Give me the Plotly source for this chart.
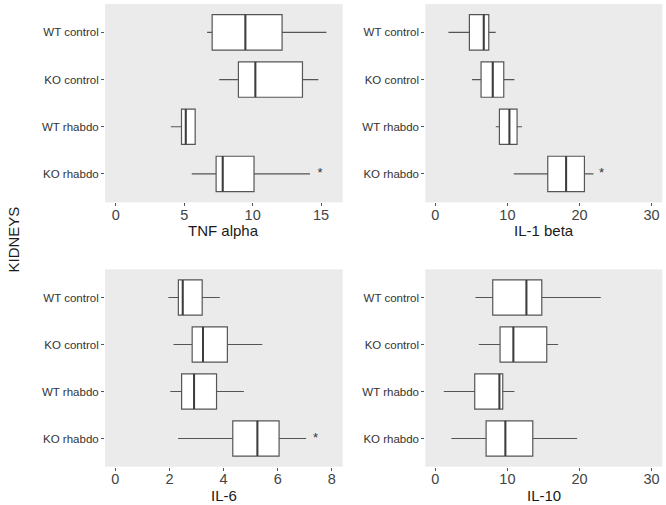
import plotly.graph_objects as go

GROUPS = ['WT control', 'KO control', 'WT rhabdo', 'KO rhabdo']

# TNF alpha
tnf_low = [6.67, 7.55, 4.02, 5.55]
tnf_q1 = [7.04, 8.96, 4.80, 7.33]
tnf_med = [9.47, 10.20, 5.11, 7.81]
tnf_q3 = [12.15, 13.64, 5.80, 10.10]
tnf_high = [15.39, 14.80, 5.85, 14.19]
tnf_star = 14.93

# IL-1 beta
il1_low = [1.81, 5.09, 8.38, 10.88]
il1_q1 = [4.72, 6.34, 8.89, 15.60]
il1_med = [6.71, 7.96, 10.28, 18.15]
il1_q3 = [7.41, 9.49, 11.34, 20.69]
il1_high = [8.38, 10.97, 12.04, 21.94]
il1_star = 23.06

# IL-6
il6_low = [1.96, 2.15, 2.03, 2.32]
il6_q1 = [2.33, 2.84, 2.45, 4.34]
il6_med = [2.49, 3.24, 2.91, 5.25]
il6_q3 = [3.21, 4.14, 3.74, 6.05]
il6_high = [3.86, 5.43, 4.75, 7.05]
il6_star = 7.40

# IL-10
il10_low = [5.56, 6.02, 1.16, 2.22]
il10_q1 = [7.96, 8.98, 5.46, 7.04]
il10_med = [12.64, 10.83, 8.89, 9.72]
il10_q3 = [14.77, 15.46, 9.35, 13.52]
il10_high = [22.96, 17.04, 10.97, 19.68]

W, H = 666, 505
BOX_W = 0.75
LINE = '#555555'
FONT = 'Liberation Sans, Arial, sans-serif'


def px_x(x):
    return x / W


def px_y(y):
    return 1 - y / H


def xdom(left, right):
    return [px_x(left), px_x(right)]


def ydom(top, bottom):
    return [px_y(bottom), px_y(top)]


panels = [
    # name, low, q1, med, q3, high, star, xrange, ticks, xdomain, ydomain, title y
    ('TNF alpha', tnf_low, tnf_q1, tnf_med, tnf_q3, tnf_high, tnf_star,
     [-0.79, 16.58], [0, 5, 10, 15], xdom(105, 342.7), ydom(4, 202.3), 231),
    ('IL-1 beta', il1_low, il1_q1, il1_med, il1_q3, il1_high, il1_star,
     [-1.4, 31.5], [0, 10, 20, 30], xdom(425.3, 662.3), ydom(4, 202.3), 231),
    ('IL-6', il6_low, il6_q1, il6_med, il6_q3, il6_high, il6_star,
     [-0.38, 8.40], [0, 2, 4, 6, 8], xdom(105, 342.7), ydom(269.3, 466.7), 495),
    ('IL-10', il10_low, il10_q1, il10_med, il10_q3, il10_high, None,
     [-1.4, 31.5], [0, 10, 20, 30], xdom(425.3, 662.3), ydom(269.3, 466.7), 495),
]

fig = go.Figure()
pos = list(range(len(GROUPS)))
annotations = []

for i, (name, low, q1, med, q3, high, star, xr, ticks, xd, yd, ty) in enumerate(panels):
    n = '' if i == 0 else str(i + 1)
    xa, ya = 'x' + n, 'y' + n

    fig.add_trace(go.Box(
        y=pos, q1=q1, median=med, q3=q3, lowerfence=low, upperfence=high,
        orientation='h', width=BOX_W, whiskerwidth=0, boxpoints=False,
        fillcolor='white', line=dict(color=LINE, width=1.2),
        xaxis=xa, yaxis=ya, showlegend=False, hoverinfo='skip',
    ))

    # thicker median bar like ggplot
    mx, my = [], []
    for p, m in zip(pos, med):
        mx += [m, m, None]
        my += [p - BOX_W / 2, p + BOX_W / 2, None]
    fig.add_trace(go.Scatter(
        x=mx, y=my, mode='lines', line=dict(color='#3d3d3d', width=2),
        xaxis=xa, yaxis=ya, showlegend=False, hoverinfo='skip',
    ))

    if star is not None:
        fig.add_trace(go.Scatter(
            x=[star], y=[pos[-1]], mode='text', text=['*'],
            textfont=dict(family=FONT, size=13, color='#333333'),
            xaxis=xa, yaxis=ya, showlegend=False, hoverinfo='skip',
        ))

    fig.layout['xaxis' + n] = dict(
        domain=xd, anchor=ya, range=xr, tickvals=ticks,
        showgrid=False, zeroline=False, showline=False,
        ticks='outside', ticklen=3, tickcolor=LINE, tickwidth=1,
        ticklabelstandoff=-4,
        tickfont=dict(family=FONT, size=14.5, color='#444444'),
    )
    fig.layout['yaxis' + n] = dict(
        domain=yd, anchor=xa, range=[3.6, -0.6],
        tickvals=pos, ticktext=GROUPS,
        showgrid=False, zeroline=False, showline=False,
        ticks='outside', ticklen=3, tickcolor=LINE, tickwidth=1,
        tickfont=dict(family=FONT, size=11.5, color='#333333'),
    )

    annotations.append(dict(
        text=name, xref='paper', yref='paper',
        x=(xd[0] + xd[1]) / 2, y=px_y(ty),
        xanchor='center', yanchor='middle', showarrow=False,
        font=dict(family=FONT, size=15, color='#1a1a1a'),
    ))

annotations.append(dict(
    text='KIDNEYS', xref='paper', yref='paper',
    x=px_x(12.5), y=px_y(240), textangle=-90,
    xanchor='center', yanchor='middle', showarrow=False,
    font=dict(family=FONT, size=15, color='#1a1a1a'),
))

fig.update_layout(
    width=W, height=H,
    margin=dict(l=0, r=0, t=0, b=0),
    paper_bgcolor='white', plot_bgcolor='#ebebeb',
    annotations=annotations,
)

# drop the browser's default 8px body margin so the figure sits at the page corner
fig.write_html("out.html", config={'displayModeBar': False},
               post_script="document.body.style.margin = '0';")
